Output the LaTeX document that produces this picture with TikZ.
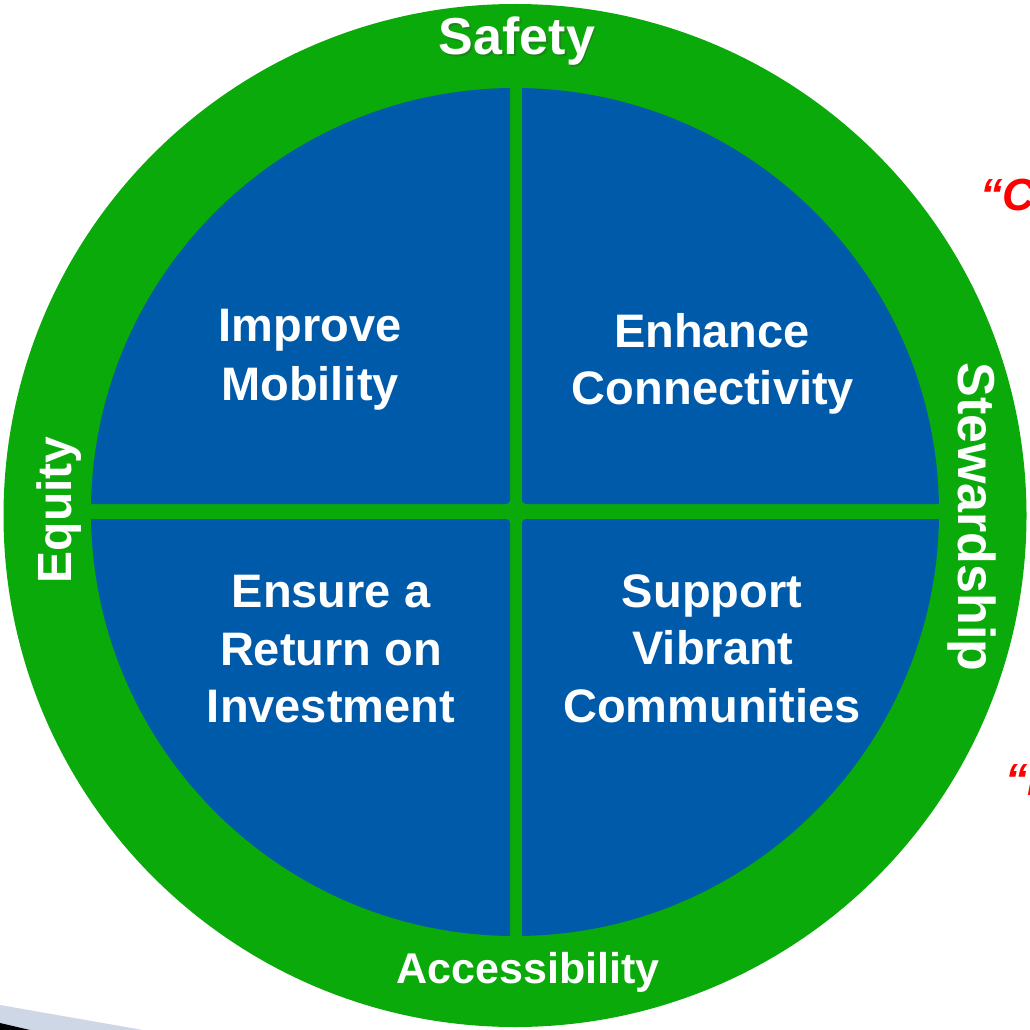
\documentclass[tikz,border=0pt]{standalone}
\usepackage{fontspec}
\setmainfont{Liberation Sans}
\definecolor{ringgreen}{RGB}{10,170,10}
\definecolor{quadblue}{RGB}{0,90,170}
\definecolor{shadowgrey}{RGB}{205,215,230}
\definecolor{safetyedge}{RGB}{40,110,40}
\begin{document}
\begin{tikzpicture}[x=1pt,y=-1pt,
  quad/.style={fill=quadblue, rounded corners=4pt},
  goal/.style={text=white, font=\fontsize{47}{56}\selectfont\bfseries, inner sep=0pt, anchor=base},
  ringtext/.style={text=white, inner sep=0pt, anchor=base},
  quotetext/.style={text=red, font=\fontsize{45}{54}\selectfont\bfseries\itshape, inner sep=0pt, anchor=base west}]
\useasboundingbox (0,0) rectangle (1029,1030);
\begin{scope}
\clip (0,0) rectangle (1029,1030);
% page shadow at bottom left
\fill[shadowgrey] (0,1005) -- (143,1030) -- (0,1030) -- cycle;
\fill[black] (0,1023) -- (30,1030) -- (0,1030) -- cycle;
% green ring
\fill[ringgreen] (515,515.5) circle[radius=511.5pt];
% blue quadrants
\begin{scope}
\clip (515,512) circle[radius=424pt];
\fill[quad] (70,70) rectangle (510,504);
\fill[quad] (522,70) rectangle (960,504);
\fill[quad] (70,519) rectangle (510,960);
\fill[quad] (522,519) rectangle (960,960);
\end{scope}
% quadrant labels
\node[goal] (imp1) at (310,341) {Improve};
\node[goal] (imp2) at (310,400) {Mobility};
\node[goal] (enh1) at (712,347) {Enhance};
\node[goal] (enh2) at (713,404) {Connectivity};
\node[goal] (ens1) at (331,607) {Ensure a};
\node[goal] (ens2) at (331,665) {Return on};
\node[goal] (ens3) at (331,722) {Investment};
\node[goal] (sup1) at (712,607) {Support};
\node[goal] (sup2) at (713,664) {Vibrant};
\node[goal] (sup3) at (712,722) {Communities};
% ring labels
\node[ringtext, text=safetyedge, opacity=0.6, font=\fontsize{52}{60}\selectfont\bfseries] (safetyshadow) at (518.5,56.5) {Safety};
\node[ringtext, font=\fontsize{52}{60}\selectfont\bfseries] (safety) at (517,55) {Safety};
\node[ringtext, font=\fontsize{43}{50}\selectfont\bfseries] (access) at (528,983) {Accessibility};
\node[ringtext, font=\fontsize{48}{56}\selectfont\bfseries, rotate=90] (equity) at (71,510) {Equity};
\node[ringtext, font=\fontsize{52}{60}\selectfont\bfseries, rotate=-90] (steward) at (958,517) {Stewardship};
% cut-off red quotes at right
\node[quotetext] (quoteC) at (980,210) {“C};
\node[quotetext] (quoteI) at (1005,795) {“I};
\end{scope}
\end{tikzpicture}
\end{document}
